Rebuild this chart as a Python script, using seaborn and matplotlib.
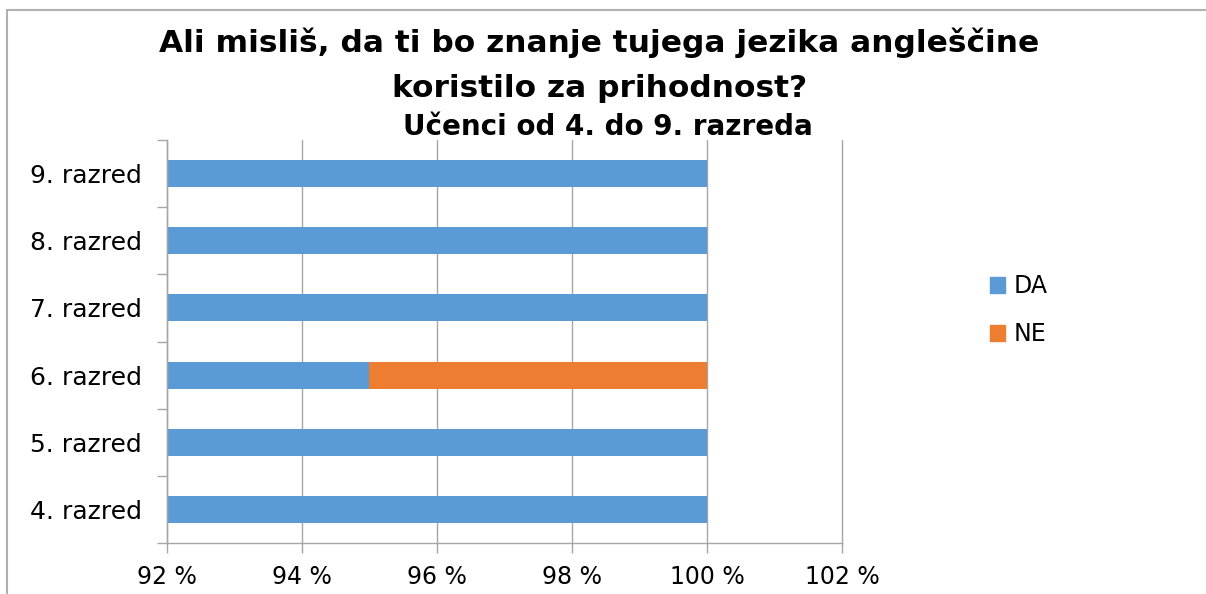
import matplotlib
matplotlib.use('Agg')
import matplotlib.pyplot as plt
from matplotlib.patches import Patch, Rectangle
from matplotlib.ticker import FixedLocator, FuncFormatter
import seaborn as sns
import pandas as pd

razredi = ['9. razred', '8. razred', '7. razred', '6. razred', '5. razred', '4. razred']
da = [100, 100, 100, 95, 100, 100]
ne = [0, 0, 0, 5, 0, 0]
x_ticks = [92, 94, 96, 98, 100, 102]

df = pd.DataFrame({'razred': razredi, 'DA': da, 'NE': ne})
df['skupaj'] = df['DA'] + df['NE']

sns.set_style('white')
plt.rcParams['font.family'] = ['DejaVu Sans']
plt.rcParams['text.color'] = 'black'

modra = '#5B9BD5'
oranzna = '#ED7D31'
siva = '#A6A6A6'

fig = plt.figure(figsize=(12.06, 5.94), dpi=100)
ax = fig.add_axes([167/1206, 1 - 543/594, (842 - 167)/1206, (543 - 140)/594])

# NE je zlozen na DA: najprej celota (oranzna), nato DA (modra) cez
sns.barplot(data=df, x='skupaj', y='razred', color=oranzna, width=0.4,
            saturation=1, linewidth=0, ax=ax, order=razredi)
sns.barplot(data=df, x='DA', y='razred', color=modra, width=0.4,
            saturation=1, linewidth=0, ax=ax, order=razredi)

ax.set_xlim(92, 102)
ax.set_ylim(len(razredi) - 0.5, -0.5)
ax.xaxis.set_major_locator(FixedLocator(x_ticks))
ax.xaxis.set_major_formatter(FuncFormatter(lambda v, p: f'{v:.0f} %'))
ax.grid(axis='x', color=siva, linewidth=1)
for gl in ax.get_xgridlines():
    gl.set_clip_on(False)
ax.set_axisbelow(True)
ax.set_xlabel('')
ax.set_ylabel('')

for s in ['top', 'right']:
    ax.spines[s].set_visible(False)
for s in ['left', 'bottom']:
    ax.spines[s].set_color(siva)
    ax.spines[s].set_linewidth(1)

ax.tick_params(axis='x', which='major', direction='out', length=7, width=1,
               color=siva, labelcolor='black', labelsize=17, pad=9, bottom=True)
ax.tick_params(axis='y', which='major', length=0, labelsize=18, pad=18,
               labelcolor='black')
ax.set_yticks([i - 0.5 for i in range(len(razredi) + 1)], minor=True)
ax.tick_params(axis='y', which='minor', direction='out', length=7, width=1,
               color=siva, left=True)

# va='baseline' poravna zadnjo vrstico
fig.text(0.497, 1 - 97/594,
         'Ali misliš, da ti bo znanje tujega jezika angleščine\nkoristilo za prihodnost?',
         ha='center', va='baseline', fontsize=22.5, fontweight='bold', linespacing=1.7,
         multialignment='center')
fig.text(0.504, 1 - 135/594, 'Učenci od 4. do 9. razreda', ha='center', va='baseline',
         fontsize=20, fontweight='bold')

handles = [Patch(color=modra, label='DA'), Patch(color=oranzna, label='NE')]
fig.legend(handles=handles, loc='upper left', bbox_to_anchor=(990/1206, 1 - 274/594),
           frameon=False, fontsize=17, handlelength=0.64, handleheight=0.64,
           handletextpad=0.35, labelspacing=1.02, borderpad=0, borderaxespad=0)

fig.add_artist(Rectangle((7/1206, -0.1), 1.2, 1 - 10/594 + 0.1,
                         transform=fig.transFigure, fill=False,
                         edgecolor='#B0B0B0', linewidth=1.5))

fig.savefig('out.png', dpi=100)
